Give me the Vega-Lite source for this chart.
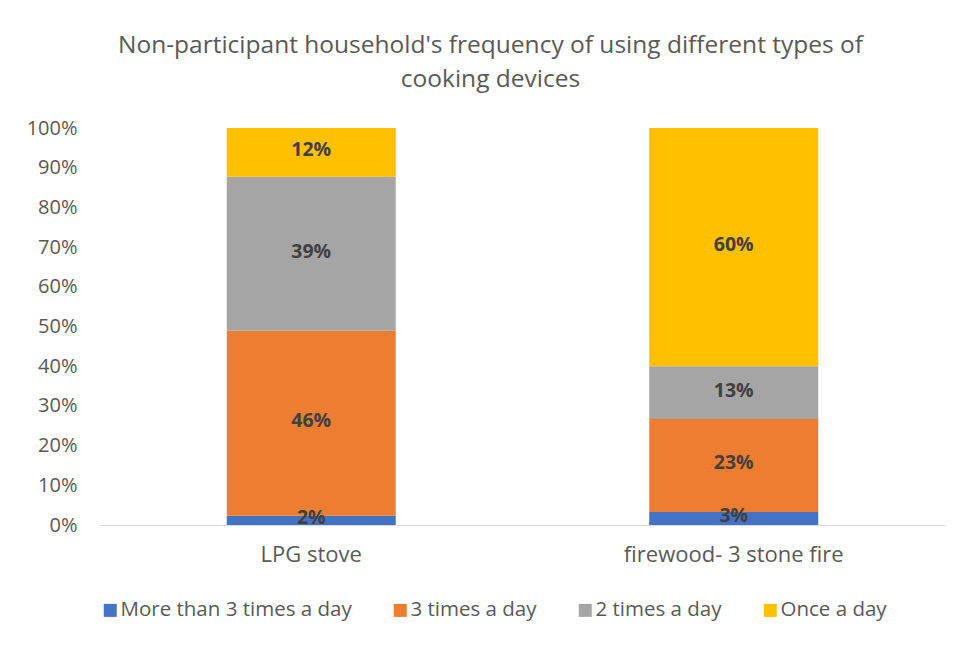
{
  "$schema": "https://vega.github.io/schema/vega-lite/v6.json",
  "width": 845,
  "height": 397,
  "autosize": {"type": "none"},
  "padding": {"left": 100, "top": 128, "right": 15, "bottom": 121},
  "background": "white",
  "config": {
    "view": {"stroke": null},
    "font": "Open Sans",
    "axisY": {
      "title": null,
      "format": ".0%",
      "values": [0, 0.1, 0.2, 0.3, 0.4, 0.5, 0.6, 0.7, 0.8, 0.9, 1],
      "labelOverlap": false,
      "domain": false,
      "ticks": false,
      "grid": false,
      "labelFontSize": 20,
      "labelColor": "#595959",
      "labelPadding": 23,
      "labelFont": "Open Sans"
    }
  },
  "title": {
    "text": ["Non-participant household's frequency of using different types of", "cooking devices"],
    "fontSize": 24.5,
    "fontWeight": "normal",
    "color": "#595959",
    "font": "Open Sans",
    "lineHeight": 34,
    "offset": 26,
    "dx": -32,
    "anchor": "middle",
    "limit": 0
  },
  "data": {
    "values": [
      {"device": "LPG stove", "freq": "More than 3 times a day", "k": 1, "value": 2.3, "label": "2%"},
      {"device": "LPG stove", "freq": "3 times a day", "k": 2, "value": 46.6, "label": "46%"},
      {"device": "LPG stove", "freq": "2 times a day", "k": 3, "value": 38.8, "label": "39%"},
      {"device": "LPG stove", "freq": "Once a day", "k": 4, "value": 12.3, "label": "12%"},
      {"device": "firewood- 3 stone fire", "freq": "More than 3 times a day", "k": 1, "value": 3.3, "label": "3%"},
      {"device": "firewood- 3 stone fire", "freq": "3 times a day", "k": 2, "value": 23.4, "label": "23%"},
      {"device": "firewood- 3 stone fire", "freq": "2 times a day", "k": 3, "value": 13.3, "label": "13%"},
      {"device": "firewood- 3 stone fire", "freq": "Once a day", "k": 4, "value": 60.0, "label": "60%"}
    ]
  },
  "transform": [
    {"stack": "value", "groupby": ["device"], "sort": [{"field": "k", "order": "ascending"}], "offset": "normalize", "as": ["y0", "y1"]},
    {"calculate": "(datum.y0 + datum.y1) / 2", "as": "ym"}
  ],
  "encoding": {
    "x": {
      "field": "device",
      "type": "nominal",
      "sort": ["LPG stove", "firewood- 3 stone fire"],
      "scale": {"paddingInner": 0.6, "paddingOuter": 0.3},
      "axis": {
        "title": null,
        "labelAngle": 0,
        "domainColor": "#d9d9d9",
        "domainWidth": 1,
        "ticks": false,
        "labelFontSize": 22,
        "labelColor": "#595959",
        "labelPadding": 19,
        "labelFont": "Open Sans",
        "labelLimit": 0
      }
    }
  },
  "layer": [
    {
      "mark": {"type": "bar"},
      "encoding": {
        "y": {
          "field": "y0",
          "type": "quantitative",
          "scale": {"domain": [0, 1]},
          "title": null
        },
        "y2": {"field": "y1"},
        "color": {
          "field": "freq",
          "type": "nominal",
          "scale": {
            "domain": ["More than 3 times a day", "3 times a day", "2 times a day", "Once a day"],
            "range": ["#4472C4", "#ED7D31", "#A5A5A5", "#FFC000"]
          },
          "legend": {
            "orient": "none",
            "legendX": 0,
            "legendY": 472,
            "direction": "horizontal",
            "title": null,
            "labelFontSize": 20.5,
            "labelColor": "#595959",
            "labelFont": "Open Sans",
            "labelLimit": 0,
            "symbolType": "square",
            "symbolSize": 169,
            "symbolStrokeWidth": 0,
            "columnPadding": 38,
            "labelOffset": 0
          }
        }
      }
    },
    {
      "mark": {"type": "text", "fontWeight": "bold", "fontSize": 19.5, "color": "#404040", "font": "Open Sans", "dy": -2},
      "encoding": {
        "y": {"field": "ym", "type": "quantitative", "title": null},
        "text": {"field": "label"}
      }
    }
  ]
}
